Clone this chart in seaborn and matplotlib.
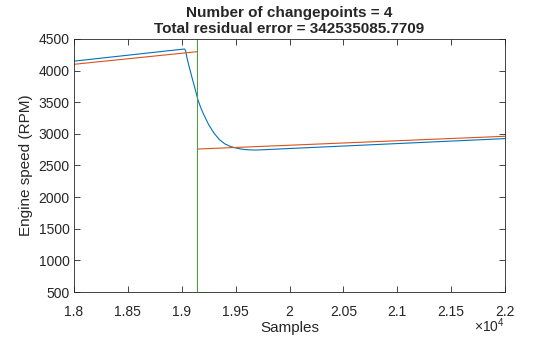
import matplotlib
matplotlib.use("Agg")
import matplotlib.pyplot as plt
import seaborn as sns
import pandas as pd

# Engine speed signal (samples, RPM)
signal_samples = [18000, 19025, 19035, 19050, 19075, 19100, 19125, 19150, 19175, 19200,
                  19250, 19300, 19350, 19400, 19450, 19500, 19550, 19600, 19650, 19700, 22000]
signal_rpm = [4150, 4342, 4320, 4190, 4020, 3860, 3705, 3540, 3420, 3320,
              3145, 3010, 2908, 2842, 2802, 2778, 2760, 2750, 2746, 2745, 2925]

# Piecewise linear fits on each segment
fit1_samples = [18000, 19145]
fit1_rpm = [4100, 4300]
fit2_samples = [19145, 22000]
fit2_rpm = [2760, 2962]

changepoint = 19145

xticks = [18000, 18500, 19000, 19500, 20000, 20500, 21000, 21500, 22000]
xtick_labels = ["1.8", "1.85", "1.9", "1.95", "2", "2.05", "2.1", "2.15", "2.2"]
yticks = [500, 1000, 1500, 2000, 2500, 3000, 3500, 4000, 4500]

title_lines = ["Number of changepoints = 4", "Total residual error = 342535085.7709"]

sns.set_style("white")
plt.rcParams["font.family"] = ["Liberation Sans", "DejaVu Sans"]
plt.rcParams["mathtext.fontset"] = "custom"
plt.rcParams["mathtext.rm"] = "Liberation Sans"

fig = plt.figure(figsize=(5.6, 3.37), dpi=100)
ax = fig.add_axes([74 / 560, 45 / 337, 431 / 560, 253 / 337])

sig = pd.DataFrame({"x": signal_samples, "y": signal_rpm})
f1 = pd.DataFrame({"x": fit1_samples, "y": fit1_rpm})
f2 = pd.DataFrame({"x": fit2_samples, "y": fit2_rpm})

sns.lineplot(data=sig, x="x", y="y", ax=ax, color="#0072BD", linewidth=0.8)
sns.lineplot(data=f1, x="x", y="y", ax=ax, color="#D95319", linewidth=0.8)
sns.lineplot(data=f2, x="x", y="y", ax=ax, color="#D95319", linewidth=0.8)
ax.axvline(changepoint, color="#3E9E35", linewidth=0.7)

ax.set_xlim(18000, 22000)
ax.set_ylim(500, 4500)
ax.set_xticks(xticks)
ax.set_xticklabels(xtick_labels)
ax.set_yticks(yticks)

text_col = "#262626"
ax.tick_params(axis="both", direction="in", length=4, width=0.6, colors=text_col,
               labelsize=10, top=True, right=True, bottom=True, left=True, pad=3)
ax.tick_params(axis="x", pad=9)
for s in ax.spines.values():
    s.set_visible(True)
    s.set_color(text_col)
    s.set_linewidth(0.6)

ax.set_xlabel("Samples", fontsize=11, color=text_col, labelpad=2)
ax.set_ylabel("Engine speed (RPM)", fontsize=11, color=text_col, labelpad=4)
ax.set_title("\n".join(title_lines), fontsize=11, fontweight="bold", color=text_col,
             pad=4, linespacing=1.2)
ax.text(1.0, -0.095, r"$\mathrm{\times10^4}$", transform=ax.transAxes, ha="right", va="top",
        fontsize=10, color=text_col)

fig.savefig("out.png", dpi=100)
